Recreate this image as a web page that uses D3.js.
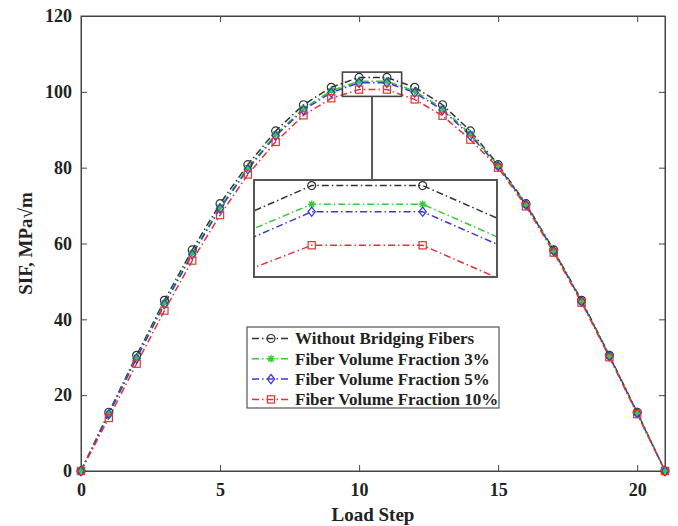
<!DOCTYPE html>
<html>
<head>
<meta charset="utf-8">
<script src="https://cdn.jsdelivr.net/npm/d3@7"></script>
<style>
  html, body { margin: 0; padding: 0; background: #fff; }
  svg { display: block; }
  text { font-family: "Liberation Serif", "Times New Roman", serif; font-weight: bold; fill: #222; }
</style>
</head>
<body>
<svg id="chart" width="678" height="526"></svg>
<script>
// Load steps
const loadSteps = d3.range(0, 22);

// SIF values (MPa√m) per load step
const withoutFibers = [0, 15.5, 30.5, 45.0, 58.3, 70.5, 80.8, 89.7, 96.6, 101.2, 103.8,
                       103.8, 101.2, 96.6, 89.7, 80.8, 70.5, 58.3, 45.0, 30.5, 15.5, 0];
const fraction3 = [0, 15.2, 30.0, 44.3, 57.5, 69.6, 80.0, 88.8, 95.6, 100.3, 102.8,
                   102.8, 100.2, 95.6, 88.9, 80.6, 70.3, 58.1, 44.8, 30.4, 15.4, 0];
const fraction5 = [0, 15.0, 29.7, 44.0, 57.1, 69.2, 79.6, 88.4, 95.2, 99.8, 102.4,
                   102.4, 99.8, 95.2, 88.5, 80.4, 70.2, 58.0, 44.7, 30.3, 15.3, 0];
const fraction10 = [0, 14.0, 28.3, 42.3, 55.5, 67.5, 78.2, 86.8, 93.8, 98.3, 100.6,
                    100.6, 98.0, 93.7, 87.4, 80.0, 69.8, 57.6, 44.4, 30.0, 15.0, 0];

const seriesNames = ["Without Bridging Fibers", "Fiber Volume Fraction 3%",
                     "Fiber Volume Fraction 5%", "Fiber Volume Fraction 10%"];
const seriesColors = ["#333333", "#33cc33", "#3a3acc", "#e03535"];
const seriesMarkers = ["circle", "asterisk", "diamond", "square"];
const seriesValues = [withoutFibers, fraction3, fraction5, fraction10];

const xTicks = [0, 5, 10, 15, 20];
const yTicks = [0, 20, 40, 60, 80, 100, 120];

// Region of the peak that is magnified in the inset
const zoomX = [9.40, 11.53];
const zoomY = [98.8, 105.2];
// Data window shown inside the inset
const insetX = [9.48, 11.67];
const insetY = [98.9, 104.1];

const svg = d3.select("#chart");
const plot = { left: 81, right: 665, top: 16, bottom: 471 };

const x = d3.scaleLinear().domain([0, 21]).range([plot.left, plot.right]);
const y = d3.scaleLinear().domain([0, 120]).range([plot.bottom, plot.top]);

const series = seriesNames.map((name, i) => ({
  name, color: seriesColors[i], marker: seriesMarkers[i],
  points: loadSteps.map((s, j) => ({ x: s, y: seriesValues[i][j] }))
}));

const dashDot = "7,3,1.5,3";
const axisColor = "#444";

// Marker shapes
function drawMarker(g, type, color) {
  if (type === "circle") {
    g.append("circle").attr("r", 4).attr("fill", "none").attr("stroke", color).attr("stroke-width", 1.2);
  } else if (type === "square") {
    g.append("rect").attr("x", -3.6).attr("y", -3.6).attr("width", 7.2).attr("height", 7.2)
      .attr("fill", "none").attr("stroke", color).attr("stroke-width", 1.2);
  } else if (type === "diamond") {
    g.append("path").attr("d", "M0,-4.6L3.6,0L0,4.6L-3.6,0Z")
      .attr("fill", "none").attr("stroke", color).attr("stroke-width", 1.3);
  } else if (type === "asterisk") {
    const r = 3.8, d = r * 0.7071;
    g.append("path")
      .attr("d", `M${-r},0L${r},0M0,${-r}L0,${r}M${-d},${-d}L${d},${d}M${-d},${d}L${d},${-d}`)
      .attr("fill", "none").attr("stroke", color).attr("stroke-width", 1.4);
  }
}

// Frame
svg.append("rect")
  .attr("x", plot.left).attr("y", plot.top)
  .attr("width", plot.right - plot.left).attr("height", plot.bottom - plot.top)
  .attr("fill", "none").attr("stroke", axisColor).attr("stroke-width", 1);

// Axes with inward ticks
const xAxis = svg.append("g").attr("transform", `translate(0,${plot.bottom})`)
  .call(d3.axisBottom(x).tickValues(xTicks).tickSizeInner(-6).tickSizeOuter(0).tickPadding(12));
const xAxisTop = svg.append("g").attr("transform", `translate(0,${plot.top})`)
  .call(d3.axisTop(x).tickValues(xTicks).tickSizeInner(-6).tickSizeOuter(0).tickFormat(""));
const yAxis = svg.append("g").attr("transform", `translate(${plot.left},0)`)
  .call(d3.axisLeft(y).tickValues(yTicks).tickSizeInner(-6).tickSizeOuter(0).tickPadding(9));
const yAxisRight = svg.append("g").attr("transform", `translate(${plot.right},0)`)
  .call(d3.axisRight(y).tickValues(yTicks).tickSizeInner(-6).tickSizeOuter(0).tickFormat(""));

[xAxis, xAxisTop, yAxis, yAxisRight].forEach(a => {
  a.select(".domain").attr("stroke", axisColor);
  a.selectAll(".tick line").attr("stroke", axisColor);
  a.selectAll("text").attr("font-size", 18).attr("font-family", "Liberation Serif")
    .attr("font-weight", "bold").attr("fill", "#222");
});
xAxis.selectAll("text").attr("dy", "0.71em");

// Axis titles
svg.append("text").attr("x", (plot.left + plot.right) / 2).attr("y", 521)
  .attr("text-anchor", "middle").attr("font-size", 19).text("Load Step");
svg.append("text")
  .attr("transform", `translate(32,${(plot.top + plot.bottom) / 2}) rotate(-90)`)
  .attr("text-anchor", "middle").attr("font-size", 19).text("SIF, MPa√m");

// Curves
const line = d3.line().x(d => x(d.x)).y(d => y(d.y));
const curves = svg.append("g");
series.forEach(s => {
  curves.append("path").datum(s.points).attr("d", line)
    .attr("fill", "none").attr("stroke", s.color).attr("stroke-width", 1.5)
    .attr("stroke-dasharray", dashDot);
});
series.forEach(s => {
  s.points.forEach(p => {
    const g = curves.append("g").attr("transform", `translate(${x(p.x)},${y(p.y)})`);
    drawMarker(g, s.marker, s.color);
  });
});

// Magnified peak window and connector
const zx0 = x(zoomX[0]), zx1 = x(zoomX[1]);
const zy0 = y(zoomY[1]), zy1 = y(zoomY[0]);
svg.append("rect").attr("x", zx0).attr("y", zy0).attr("width", zx1 - zx0).attr("height", zy1 - zy0)
  .attr("fill", "none").attr("stroke", "#444").attr("stroke-width", 1.6);

const inset = { left: 254, right: 497, top: 180, bottom: 277 };
svg.append("line").attr("x1", (zx0 + zx1) / 2).attr("x2", (zx0 + zx1) / 2)
  .attr("y1", zy1).attr("y2", inset.top)
  .attr("stroke", "#333").attr("stroke-width", 1.6);

// Inset
const ix = d3.scaleLinear().domain(insetX).range([inset.left, inset.right]);
const iy = d3.scaleLinear().domain(insetY).range([inset.bottom, inset.top]);
svg.append("defs").append("clipPath").attr("id", "insetClip")
  .append("rect").attr("x", inset.left).attr("y", inset.top)
  .attr("width", inset.right - inset.left).attr("height", inset.bottom - inset.top);
svg.append("rect").attr("x", inset.left).attr("y", inset.top)
  .attr("width", inset.right - inset.left).attr("height", inset.bottom - inset.top)
  .attr("fill", "#fff");
const insetG = svg.append("g").attr("clip-path", "url(#insetClip)");
const iline = d3.line().x(d => ix(d.x)).y(d => iy(d.y));
series.forEach(s => {
  insetG.append("path").datum(s.points).attr("d", iline)
    .attr("fill", "none").attr("stroke", s.color).attr("stroke-width", 1.5)
    .attr("stroke-dasharray", dashDot);
  s.points.filter(p => p.x >= insetX[0] && p.x <= insetX[1]).forEach(p => {
    const g = insetG.append("g").attr("transform", `translate(${ix(p.x)},${iy(p.y)})`);
    drawMarker(g, s.marker, s.color);
  });
});
svg.append("rect").attr("x", inset.left).attr("y", inset.top)
  .attr("width", inset.right - inset.left).attr("height", inset.bottom - inset.top)
  .attr("fill", "none").attr("stroke", "#555").attr("stroke-width", 2);

// Legend
const legend = { left: 247, top: 327, width: 252, height: 81, row: 20.3, firstRow: 338.5 };
svg.append("rect").attr("x", legend.left).attr("y", legend.top)
  .attr("width", legend.width).attr("height", legend.height)
  .attr("fill", "#fff").attr("stroke", "#555").attr("stroke-width", 1.2);
series.forEach((s, i) => {
  const cy = legend.firstRow + i * legend.row;
  const g = svg.append("g");
  g.append("line").attr("x1", legend.left + 5).attr("x2", legend.left + 43)
    .attr("y1", cy).attr("y2", cy)
    .attr("stroke", s.color).attr("stroke-width", 1.5).attr("stroke-dasharray", dashDot);
  const m = g.append("g").attr("transform", `translate(${legend.left + 24},${cy})`);
  drawMarker(m, s.marker, s.color);
  g.append("text").attr("x", legend.left + 48).attr("y", cy).attr("dy", "0.35em")
    .attr("font-size", 17).text(s.name);
});
</script>
</body>
</html>
